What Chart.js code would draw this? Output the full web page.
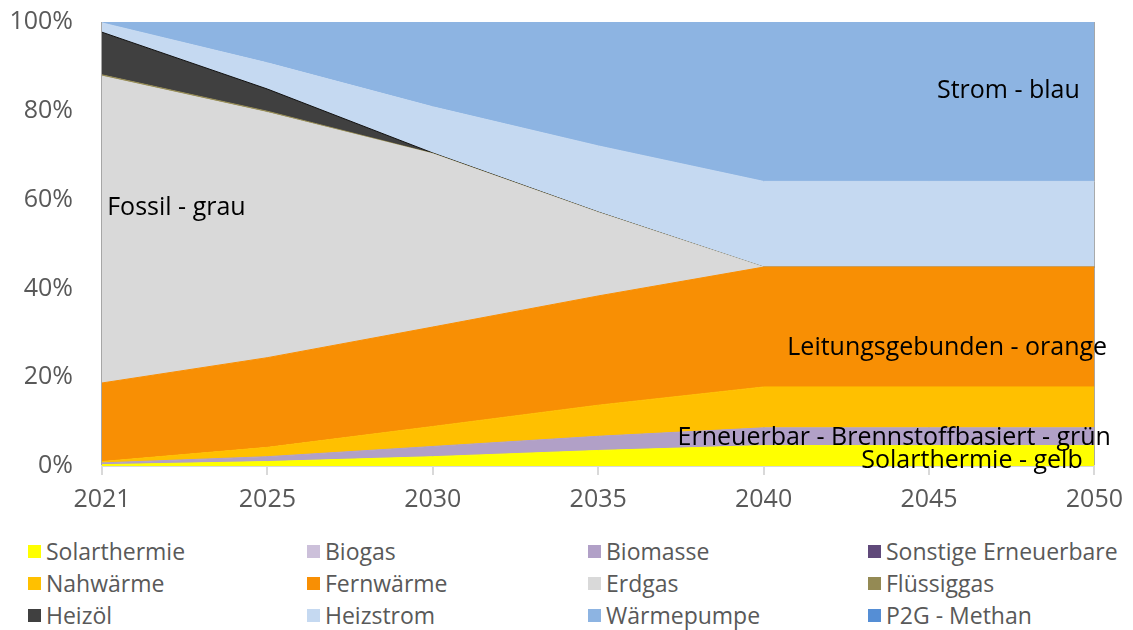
<!DOCTYPE html>
<html>
<head>
<meta charset="utf-8">
<script src="https://cdn.jsdelivr.net/npm/chart.js@4.4.1/dist/chart.umd.min.js"></script>
<style>
  body { margin: 0; background: #fff; font-family: 'Open Sans', sans-serif; }
  #wrap { position: absolute; left: 0; top: 0; width: 1133px; height: 530px; }
  #legend { position: absolute; left: 28px; top: 535px; display: grid;
            grid-template-columns: 279px 281px 280px 250px; }
  .item { display: flex; align-items: center; height: 32px; font-size: 23px; color: #595959; white-space: nowrap; }
  .box { width: 13px; height: 13px; margin-right: 5px; flex: none; }
</style>
</head>
<body>
<div id="wrap"><canvas id="myChart" width="1133" height="530"></canvas></div>
<div id="legend"></div>
<script>
// categories
const years = ['2021', '2025', '2030', '2035', '2040', '2045', '2050'];

// series values (share in %)
const solarthermie = [0.3, 1.0, 2.1, 3.5, 4.6, 4.6, 4.6];
const biogas = [0, 0, 0, 0, 0, 0, 0];
const biomasse = [0.4, 1.1, 2.3, 3.2, 4.0, 4.0, 4.0];
const sonstigeErneuerbare = [0, 0, 0, 0, 0, 0, 0];
const nahwaerme = [0.3, 2.1, 4.5, 7.0, 9.2, 9.2, 9.2];
const fernwaerme = [17.7, 20.2, 22.4, 24.6, 27.0, 27.0, 27.0];
const erdgas = [69.1, 55.2, 39.0, 18.8, 0, 0, 0];
const fluessiggas = [0.3, 0.3, 0.1, 0.05, 0, 0, 0];
const heizoel = [9.6, 5.0, 0.1, 0.05, 0, 0, 0];
const heizstrom = [2.1, 5.9, 10.4, 14.9, 19.3, 19.3, 19.3];
const waermepumpe = [0.2, 9.2, 19.1, 27.9, 35.9, 35.9, 35.9];
const p2gMethan = [0, 0, 0, 0, 0, 0, 0];

// y tick labels
const yTicks = [0, 20, 40, 60, 80, 100];

const series = [
  { label: 'Solarthermie', data: solarthermie, color: '#FFFF00' },
  { label: 'Biogas', data: biogas, color: '#CCC0DA' },
  { label: 'Biomasse', data: biomasse, color: '#B1A0C7' },
  { label: 'Sonstige Erneuerbare', data: sonstigeErneuerbare, color: '#60497A' },
  { label: 'Nahwärme', data: nahwaerme, color: '#FFC000' },
  { label: 'Fernwärme', data: fernwaerme, color: '#F88F04' },
  { label: 'Erdgas', data: erdgas, color: '#D9D9D9' },
  { label: 'Flüssiggas', data: fluessiggas, color: '#948A54' },
  { label: 'Heizöl', data: heizoel, color: '#404040', border: '#111111' },
  { label: 'Heizstrom', data: heizstrom, color: '#C5D9F1' },
  { label: 'Wärmepumpe', data: waermepumpe, color: '#8DB4E2' },
  { label: 'P2G - Methan', data: p2gMethan, color: '#558ED5' }
];

// text labels inside the plot: category index / value of the text centre
const notes = [
  { text: 'Strom - blau', x: 5.48, y: 84.4 },
  { text: 'Fossil - grau', x: 0.45, y: 58.1 },
  { text: 'Leitungsgebunden - orange', x: 5.11, y: 26.7 },
  { text: 'Erneuerbar - Brennstoffbasiert - grün', x: 4.79, y: 6.4 },
  { text: 'Solarthermie - gelb', x: 5.26, y: 1.2 }
];

const notesPlugin = {
  id: 'notes',
  afterDraw(chart) {
    const ctx = chart.ctx;
    const xs = chart.scales.x, ys = chart.scales.y;
    ctx.save();
    ctx.font = "25px 'Open Sans'";
    ctx.fillStyle = '#000';
    ctx.textAlign = 'center';
    ctx.textBaseline = 'middle';
    notes.forEach(n => {
      ctx.fillText(n.text, xs.getPixelForValue(n.x), ys.getPixelForValue(n.y));
    });
    ctx.restore();
  }
};

const datasets = series.map((s, i) => ({
  label: s.label,
  data: s.data,
  backgroundColor: s.color,
  borderColor: s.border || s.color,
  borderWidth: s.data.some(v => v > 0) ? 1 : 0,
  fill: i === 0 ? 'origin' : '-1',
  pointRadius: 0,
  tension: 0
}));

const config = {
  type: 'line',
  data: { labels: years, datasets },
  options: {
    responsive: false,
    animation: false,
    layout: { padding: { top: 22, right: 37, left: 0, bottom: 0 } },
    plugins: { legend: { display: false }, tooltip: { enabled: false } },
    scales: {
      x: {
        offset: false,
        z: 1,
        grid: { color: '#A6A6A6', lineWidth: 2, drawTicks: true, tickLength: 9, tickColor: '#D9D9D9' },
        border: { display: true, color: '#D9D9D9', width: 2 },
        ticks: { color: '#595959', font: { family: 'Open Sans', size: 25 }, padding: 10, maxRotation: 0 },
        afterFit: (scale) => { scale.height = 64; }
      },
      y: {
        stacked: true,
        min: 0,
        max: 100,
        grid: { display: false, drawTicks: false },
        border: { display: false },
        afterBuildTicks: (scale) => { scale.ticks = yTicks.map(v => ({ value: v })); },
        ticks: {
          color: '#595959',
          font: { family: 'Open Sans', size: 25 },
          padding: 29,
          callback: (v) => v + '%'
        },
        afterFit: (scale) => {
          scale.width = 102;
          scale.paddingTop = 0;
          scale.paddingBottom = 0;
        }
      }
    }
  },
  plugins: [notesPlugin]
};

const myChart = new Chart(document.getElementById('myChart'), config);

// legend in four fixed columns
const legend = document.getElementById('legend');
series.forEach(s => {
  const item = document.createElement('div');
  item.className = 'item';
  const box = document.createElement('span');
  box.className = 'box';
  box.style.background = s.color;
  item.appendChild(box);
  item.appendChild(document.createTextNode(s.label));
  legend.appendChild(item);
});
</script>
</body>
</html>
